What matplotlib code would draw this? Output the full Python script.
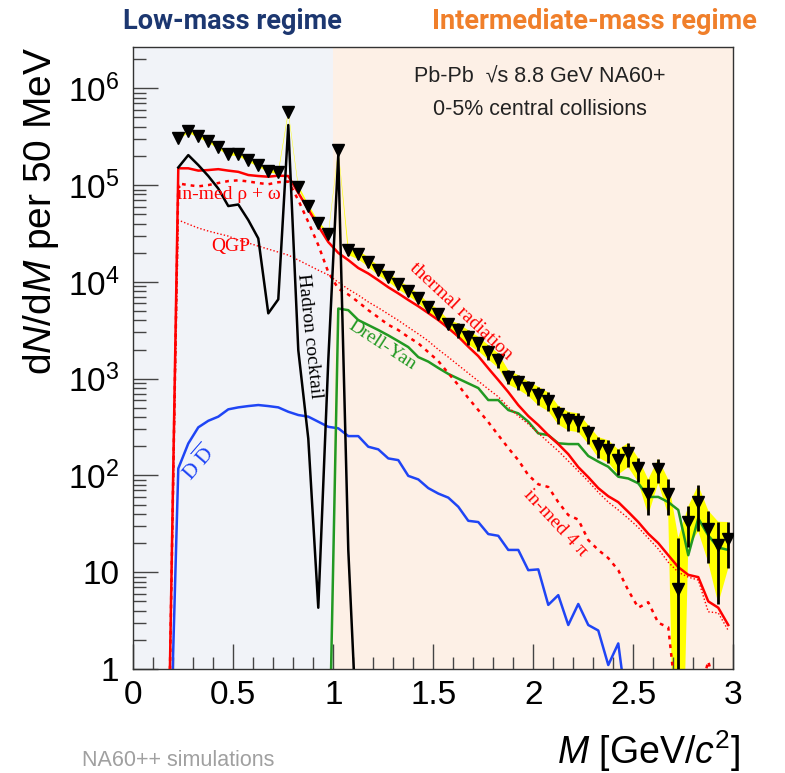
import numpy as np
import matplotlib
matplotlib.use("Agg")
import matplotlib.pyplot as plt
from matplotlib.ticker import FixedLocator, LogLocator, NullFormatter, MultipleLocator

plt.rcParams["font.family"] = ["Liberation Sans", "DejaVu Sans"]
plt.rcParams["mathtext.fontset"] = "custom"
plt.rcParams["mathtext.rm"] = "Liberation Sans"
plt.rcParams["mathtext.it"] = "Liberation Sans:italic"
plt.rcParams["mathtext.bf"] = "Liberation Sans:bold"

N = np.nan

# ------------------------------------------------------------------------------
# Data: 50 MeV mass bins (bin centres), yields per bin.
# ------------------------------------------------------------------------------
mass = np.round(np.arange(0.175, 3.0, 0.05), 3)

data = [N, 3.04e5, 3.61e5, 3.21e5, 2.87e5, 2.45e5, 2.11e5, 2.08e5, 1.81e5,
        1.61e5, 1.41e5, 1.35e5, 5.7e5, 9.6e4, 6.1e4, 4.08e4, 3.1e4, 2.3e5,
        2.13e4, 1.92e4, 1.61e4, 1.32e4, 1.13e4, 9.4e3, 8.1e3, 6.8e3, 5.5e3,
        4.7e3, 3.66e3, 3.18e3, 2.71e3, 2.32e3, 1.90e3, 1.56e3, 1.05e3, 930,
        800, 678, 591, 431, 373, 359, 272, 201, 183, 144, 169, 118, 65, 116,
        65, 6.7, 33, 53, 28, 19, 22]

data_relerr = [N] + [0.04] * 17 + [0.11] * 11 + [0.17] * 8 + [0.22] * 5 + [
    0.22, 0.24, 0.26, 0.29, 0.28, 0.28, 0.40, 0.28, 0.40, 2.4, 0.45, 0.50,
    0.55, 0.75, 0.50]

cocktail = [N, 1.52e5, 2.04e5, 1.61e5, 1.24e5, 9.2e4, 6.07e4, 6.3e4, 4.35e4,
            2.81e4, 4.73e3, 6.6e3, 4.17e5, 1.97e3, 240, 4.3, 1.55e3, 2.04e5,
            17, 0.1] + [N] * 37

thermal = [0.1, 1.49e5, 1.49e5, 1.41e5, 1.43e5, 1.46e5, 1.41e5, 1.37e5,
           1.27e5, 1.24e5, 1.22e5, 1.25e5, 1.24e5, 8.3e4, 5.6e4, 3.77e4,
           2.58e4, 1.99e4, 1.68e4, 1.39e4, 1.22e4, 1.04e4, 8.8e3, 7.6e3,
           6.5e3, 5.6e3, 4.76e3, 4.03e3, 3.33e3, 2.72e3, 2.14e3, 1.71e3,
           1.28e3, 968, 727, 533, 411, 332, 261, 211, 166, 122, 96, 74, 61,
           53, 42, 33, 25, 20, 15, 11.3, 9.4, 8.9, 5.0, 4.3, 2.85]

inmed = [0.1, 1.04e5, 1.0e5, 9.7e4, 1.0e5, 1.05e5, 1.1e5, 1.12e5, 1.09e5,
         1.05e5, 1.02e5, 1.07e5, 1.09e5, 7.0e4, 4.15e4, 2.4e4, 1.26e4, 8.5e3,
         7.4e3, 6.2e3, 5.1e3, 4.3e3, 3.6e3, 3.18e3, 2.69e3, 2.32e3, 1.88e3,
         1.52e3, 1.14e3, 859, 630, 474, 356, 261, 192, 144, 101, 81, 76, 53,
         39, 35, 21.5, 17, 14, 10.5, 6.5, 4.3, 4.9, 3.0, 2.7, 0.3, 0.2, 0.5,
         1.2, 0.5, 0.2]

qgp = [0.1, 4.35e4, 3.95e4, 3.6e4, 3.35e4, 3.15e4, 2.97e4, 2.7e4, 2.52e4,
       2.34e4, 2.18e4, 2.03e4, 1.89e4, 1.68e4, 1.49e4, 1.32e4, 1.18e4, 9.9e3,
       8.4e3, 7.3e3, 6.2e3, 5.4e3, 4.65e3, 4.0e3, 3.4e3, 2.9e3, 2.45e3, 2.0e3,
       1.67e3, 1.38e3, 1.14e3, 944, 781, 650, 509, 411, 340, 274, 221, 179,
       141, 111, 87, 67, 53, 44, 36, 29, 22.5, 17.4, 12.7, 10, 8.9, 8.3, 3.9,
       3.8, 2.5]

charm = [0.023, 118, 214, 314, 367, 405, 482, 505, 521, 534, 521, 505, 455,
         421, 405, 359, 318, 307, 255, 255, 198, 186, 150, 144, 99, 91, 74, 65,
         59, 47.5, 34, 33, 24.8, 23.8, 17, 17, 10.5, 10.7, 4.6, 5.8, 2.85, 4.7,
         2.85, 2.5, 1.1, 1.84, 0.3] + [N] * 10

drell_yan = [N] * 16 + [0.035, 5.3e3, 5.1e3, 4.03e3, 3.58e3, 3.18e3, 2.8e3,
             2.44e3, 2.12e3, 1.67e3, 1.5e3, 1.29e3, 1.12e3, 1.0e3, 894, 800,
             601, 601, 474, 438, 359, 272, 261, 215, 211, 211, 159, 139, 123,
             97, 93, 83, 60, 60, 53, 44, 15, 36, 24, 18, 17]

ytick_vals = [1, 10, 1e2, 1e3, 1e4, 1e5, 1e6]
ytick_labels = ["1", "10", r"$10^{2}$", r"$10^{3}$", r"$10^{4}$", r"$10^{5}$",
                r"$10^{6}$"]
xtick_vals = [0, 0.5, 1, 1.5, 2, 2.5, 3]
xtick_labels = ["0", "0.5", "1", "1.5", "2", "2.5", "3"]

# ------------------------------------------------------------------------------
# Figure.
# ------------------------------------------------------------------------------
fig = plt.figure(figsize=(7.85, 7.73), dpi=100)
ax = fig.add_axes([0.1698, 0.1345, 0.7643, 0.8047])

ax.axvspan(0, 1, color="#f1f3f8", lw=0, zorder=0)
ax.axvspan(1, 3, color="#fdf0e6", lw=0, zorder=0)

d = np.array(data, dtype=float)
e = np.array(data_relerr, dtype=float)
hi = d * (1 + e)
lo = np.clip(d * (1 - e), 1e-3, None)
ax.fill_between(mass, lo, hi, color="#ffff00", lw=0, zorder=1)

ax.plot(mass, charm, color="#1f45f5", lw=1.8, zorder=2)
ax.plot(mass, drell_yan, color="#229922", lw=1.8, zorder=2)
ax.plot(mass, qgp, color="#ff0000", lw=1.0, ls=(0, (1, 1.5)), zorder=3)
ax.plot(mass, inmed, color="#ff0000", lw=1.8, ls=(0, (1.5, 2)), zorder=3)
ax.plot(mass, thermal, color="#ff0000", lw=1.8, zorder=3)
ax.plot(mass, cocktail, color="black", lw=1.8, zorder=4)

ax.errorbar(mass, d, yerr=[d - lo, hi - d], fmt="v", color="black", ms=8,
            elinewidth=2, capsize=0, zorder=5)

ax.set_yscale("log")
ax.set_xlim(0, 3)
ax.set_ylim(1, 2.67e6)

ax.yaxis.set_major_locator(FixedLocator(ytick_vals))
ax.set_yticklabels(ytick_labels)
ax.yaxis.set_minor_locator(LogLocator(base=10, subs=np.arange(2, 10)))
ax.yaxis.set_minor_formatter(NullFormatter())
ax.set_xticks(xtick_vals)
ax.set_xticklabels(xtick_labels)
ax.xaxis.set_minor_locator(MultipleLocator(0.1))

ax.tick_params(which="both", direction="in", top=False, right=False,
               color="#444444", labelsize=24)
ax.tick_params(which="major", length=18, width=1)
ax.tick_params(which="minor", length=9, width=1)
ax.tick_params(axis="x", pad=8)
ax.tick_params(axis="y", pad=10)
for s in ax.spines.values():
    s.set_color("#333333")
    s.set_linewidth(1.0)

ax.set_ylabel(r"d$\mathit{N}$/d$\mathit{M}$ per 50 MeV", fontsize=28, loc="top")
ax.yaxis.set_label_coords(-0.12, 1.0)
ax.set_xlabel(r"$\mathit{M}$ [GeV/$\mathit{c}^{2}$]", fontsize=27, loc="right")
ax.xaxis.set_label_coords(1.012, -0.095)

# Curve labels
serif = ["Liberation Serif", "DejaVu Serif"]
ax.text(0.22, 7.9e4, "in-med ρ + ω", color="#ff0000", fontsize=14,
        family=serif, ha="left", va="center", zorder=6)
ax.text(0.485, 2.3e4, "QGP", color="#ff0000", fontsize=14, family=serif,
        ha="center", va="center", zorder=6)
ax.text(0.88, 2.75e3, "Hadron cocktail", color="black", fontsize=14,
        family=serif, rotation=-84, ha="center", va="center", zorder=6)
ax.text(1.638, 4.99e3, "thermal radiation", color="#ff0000", fontsize=14,
        family=serif, rotation=-43, ha="center", va="center", zorder=6)
ax.text(1.246, 2.22e3, "Drell-Yan", color="#229922", fontsize=14,
        family=serif, rotation=-33, ha="center", va="center", zorder=6)
ax.text(2.108, 32, "in-med 4 π", color="#ff0000", fontsize=14, family=serif,
        rotation=-47, ha="center", va="center", zorder=6)
ax.text(0.324, 137, r"$\mathrm{D}\ \overline{\mathrm{D}}$", color="#1f45f5",
        fontsize=15, math_fontfamily="stix", rotation=49, ha="center",
        va="center", zorder=6)

ax.text(0.678, 0.952, "Pb-Pb  √s 8.8 GeV NA60+", transform=ax.transAxes,
        fontsize=15.5, ha="center", va="center", color="#222222")
ax.text(0.678, 0.899, "0-5% central collisions", transform=ax.transAxes,
        fontsize=15.5, ha="center", va="center", color="#222222")

fig.text(0.296, 0.9625, "Low-mass regime", color="#1c3770", fontsize=19.5,
         fontweight="bold", family=["Roboto", "DejaVu Sans"], ha="center",
         va="baseline")
fig.text(0.757, 0.9625, "Intermediate-mass regime", color="#f07f2a",
         fontsize=19.5, fontweight="bold", family=["Roboto", "DejaVu Sans"],
         ha="center", va="baseline")
fig.text(0.1045, 0.009, "NA60++ simulations", color="#a0a0a0", fontsize=15.5,
         ha="left", va="baseline")

fig.savefig("out.png", dpi=100)
